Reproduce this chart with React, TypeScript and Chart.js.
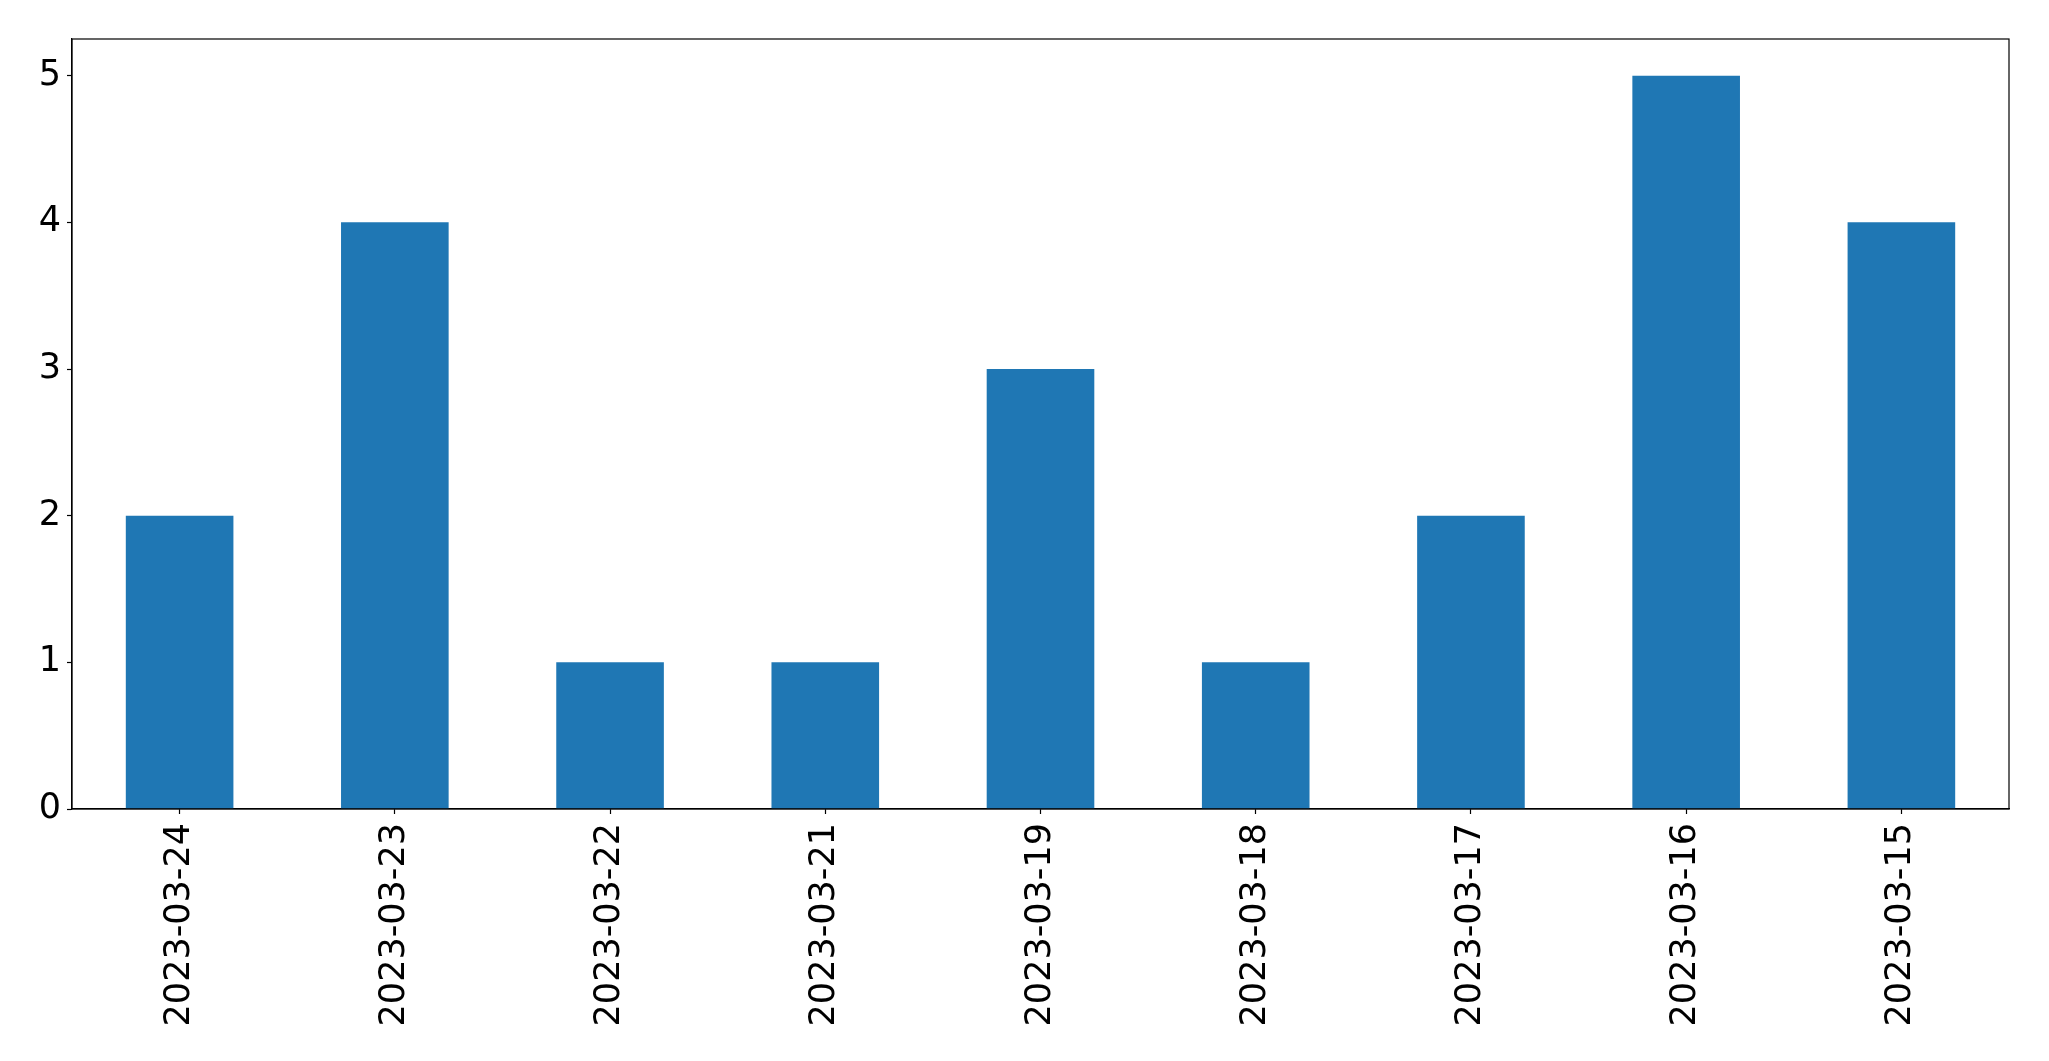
import React, { useEffect, useRef } from "react";
import { Chart, registerables } from "chart.js";

Chart.register(...registerables);

const categories = [
  "2023-03-24",
  "2023-03-23",
  "2023-03-22",
  "2023-03-21",
  "2023-03-19",
  "2023-03-18",
  "2023-03-17",
  "2023-03-16",
  "2023-03-15",
];
const values = [2, 4, 1, 1, 3, 1, 2, 5, 4];
const yTicks = [0, 1, 2, 3, 4, 5];

const W = 2049;
const H = 1061;
const PLOT_LEFT = 72;
const PLOT_RIGHT = 2009;
const PLOT_TOP = 39;
const PLOT_BOTTOM = 809;
const FONT = "'DejaVu Sans', sans-serif";

const frame = {
  id: "frame",
  afterDraw(chart: any) {
    const { ctx, chartArea } = chart;
    ctx.save();
    ctx.strokeStyle = "#000";
    ctx.lineWidth = 1.2;
    ctx.strokeRect(
      chartArea.left,
      chartArea.top,
      chartArea.right - chartArea.left,
      chartArea.bottom - chartArea.top
    );
    ctx.restore();
  },
};

export default function App() {
  const ref = useRef<HTMLCanvasElement | null>(null);
  useEffect(() => {
    document.body.style.margin = "0";
    const chart = new Chart(ref.current as HTMLCanvasElement, {
      type: "bar",
      data: {
        labels: categories,
        datasets: [
          {
            data: values,
            backgroundColor: "#1f77b4",
            barPercentage: 0.5,
            categoryPercentage: 1,
          },
        ],
      },
      options: {
        animation: false,
        responsive: false,
        maintainAspectRatio: false,
        layout: {
          padding: { left: 0, right: W - PLOT_RIGHT, top: PLOT_TOP, bottom: 0 },
        },
        plugins: {
          legend: { display: false },
          tooltip: { enabled: false },
        },
        scales: {
          x: {
            offset: true,
            grid: {
              display: true,
              offset: false,
              drawOnChartArea: false,
              drawTicks: true,
              tickLength: 5,
              tickColor: "#000",
              tickWidth: 1.2,
            },
            border: { display: true, color: "#000", width: 1.2 },
            ticks: {
              color: "#000",
              font: { family: FONT, size: 35 },
              minRotation: 90,
              maxRotation: 90,
              padding: 9,
              autoSkip: false,
            },
            afterFit(scale: any) {
              scale.height = H - PLOT_BOTTOM;
            },
          },
          y: {
            min: 0,
            max: 5.25,
            grid: {
              display: true,
              drawOnChartArea: false,
              drawTicks: true,
              tickLength: 5,
              tickColor: "#000",
              tickWidth: 1.2,
            },
            border: { display: true, color: "#000", width: 1.2 },
            ticks: {
              color: "#000",
              font: { family: FONT, size: 35 },
              padding: 6,
            },
            afterBuildTicks(scale: any) {
              scale.ticks = yTicks.map((v) => ({ value: v }));
            },
            afterFit(scale: any) {
              scale.width = PLOT_LEFT;
            },
          },
        },
      },
      plugins: [frame],
    });
    return () => chart.destroy();
  }, []);
  return (
    <div style={{ position: "fixed", left: 0, top: 0, width: W, height: H, background: "#fff" }}>
      <canvas ref={ref} width={W} height={H} style={{ width: W, height: H, display: "block" }} />
    </div>
  );
}
